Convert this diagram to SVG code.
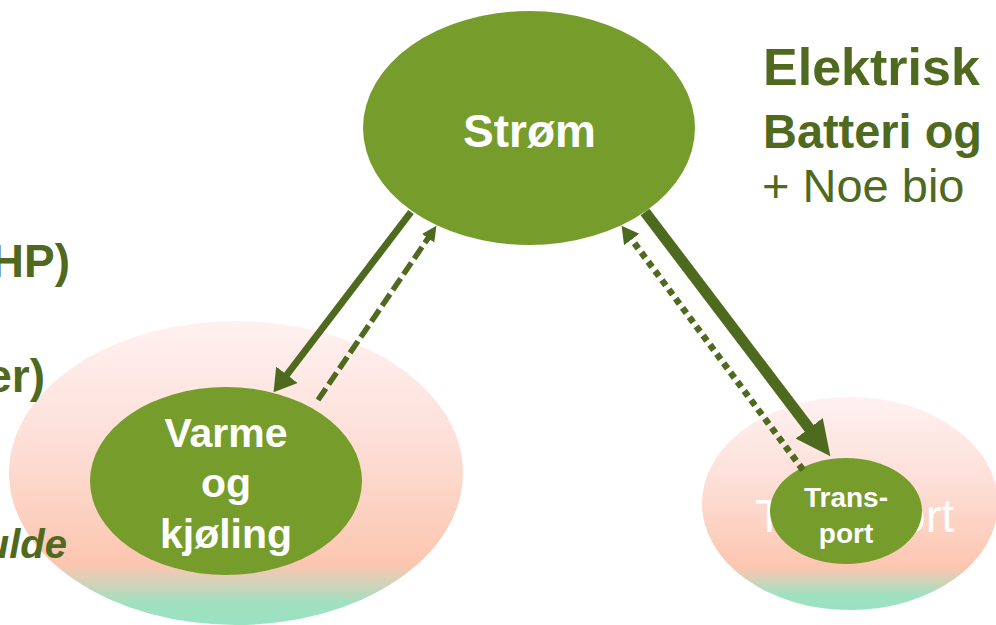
<svg xmlns="http://www.w3.org/2000/svg" width="996" height="625" viewBox="0 0 996 625">
<style>
.node{fill:#769d2c}
.wt{fill:#ffffff;font-family:"Liberation Sans",Arial,sans-serif;font-weight:bold;text-anchor:middle}
.dk{fill:#4f6a1f;font-family:"Liberation Sans",Arial,sans-serif}
.b{font-weight:bold}
.conn{stroke:#4e6a1e;fill:none}
</style>
<defs>
<linearGradient id="halo" x1="0" y1="0" x2="0" y2="1">
<stop offset="0" stop-color="#fff1f1"/>
<stop offset="0.4" stop-color="#fddfd7"/>
<stop offset="0.8" stop-color="#fcc6b0"/>
<stop offset="0.86" stop-color="#d4d2b8"/>
<stop offset="0.93" stop-color="#9fe1c0"/>
<stop offset="1" stop-color="#9ae2c2"/>
</linearGradient>
<marker id="hL" markerUnits="userSpaceOnUse" viewBox="0 -14 23 28" refX="1" refY="0" markerWidth="23" markerHeight="28" orient="auto">
<path d="M0,-13.5 L22,0 L0,13.5 Z" fill="#4e6a1e"/>
</marker>
<marker id="hR" markerUnits="userSpaceOnUse" viewBox="0 -17 36 34" refX="1" refY="0" markerWidth="36" markerHeight="34" orient="auto">
<path d="M0,-17 L35,0 L0,17 Z" fill="#4e6a1e"/>
</marker>
<marker id="hD" markerUnits="userSpaceOnUse" viewBox="0 -8 16 16" refX="1" refY="0" markerWidth="16" markerHeight="16" orient="auto">
<path d="M0,-7.5 L15,0 L0,7.5 Z" fill="#4e6a1e"/>
</marker>
<marker id="hO" markerUnits="userSpaceOnUse" viewBox="0 -10 18 20" refX="1" refY="0" markerWidth="18" markerHeight="20" orient="auto">
<path d="M0,-9.5 L17,0 L0,9.5 Z" fill="#4e6a1e"/>
</marker>
</defs>

<g id="varme-halo">
<ellipse cx="236" cy="473" rx="227" ry="152" fill="url(#halo)"/>
</g>
<g id="transport-halo">
<ellipse cx="850" cy="503.5" rx="148" ry="106.5" fill="url(#halo)"/>
<text x="755" y="532" font-size="47" fill="#ffffff" font-family="'Liberation Sans',Arial,sans-serif">Transport</text>
</g>

<g id="side-text">
<text class="dk b" x="70" y="277" font-size="46" text-anchor="end">HP)</text>
<text class="dk b" x="45" y="392" font-size="46" text-anchor="end">er)</text>
<text class="dk b" x="67" y="558" font-size="40" font-style="italic" text-anchor="end">ulde</text>
<text class="dk b" x="763" y="85" font-size="52">Elektrisk</text>
<text class="dk b" x="763" y="148" font-size="48" textLength="219" lengthAdjust="spacingAndGlyphs">Batteri og</text>
<text class="dk" x="762" y="202" font-size="47">+ Noe bio</text>
</g>

<g id="strom">
<ellipse class="node" cx="529" cy="128" rx="166" ry="117"/>
<text class="wt" x="529.5" y="147" font-size="46">Strøm</text>
</g>

<g id="varme">
<ellipse class="node" cx="226" cy="481" rx="136" ry="94"/>
<text class="wt" x="226" y="447" font-size="41">Varme</text>
<text class="wt" x="226" y="497" font-size="41">og</text>
<text class="wt" x="226" y="548" font-size="41">kjøling</text>
</g>

<g id="transport">
<ellipse class="node" cx="846" cy="511" rx="76" ry="53"/>
<text class="wt" x="846" y="507" font-size="28">Trans-</text>
<text class="wt" x="846" y="543" font-size="28">port</text>
</g>

<g id="connectors">
<line class="conn" x1="411" y1="212" x2="286.3" y2="375.5" stroke-width="7" marker-end="url(#hL)"/>
<line class="conn" x1="318" y1="400" x2="428.6" y2="237.4" stroke-width="5.5" stroke-dasharray="14 5" marker-end="url(#hD)"/>
<line class="conn" x1="645" y1="212" x2="809.8" y2="429.1" stroke-width="11" marker-end="url(#hR)"/>
<line class="conn" x1="803" y1="470" x2="631.1" y2="238.7" stroke-width="6.5" stroke-dasharray="6.5 5" marker-end="url(#hO)"/>
</g>
</svg>
